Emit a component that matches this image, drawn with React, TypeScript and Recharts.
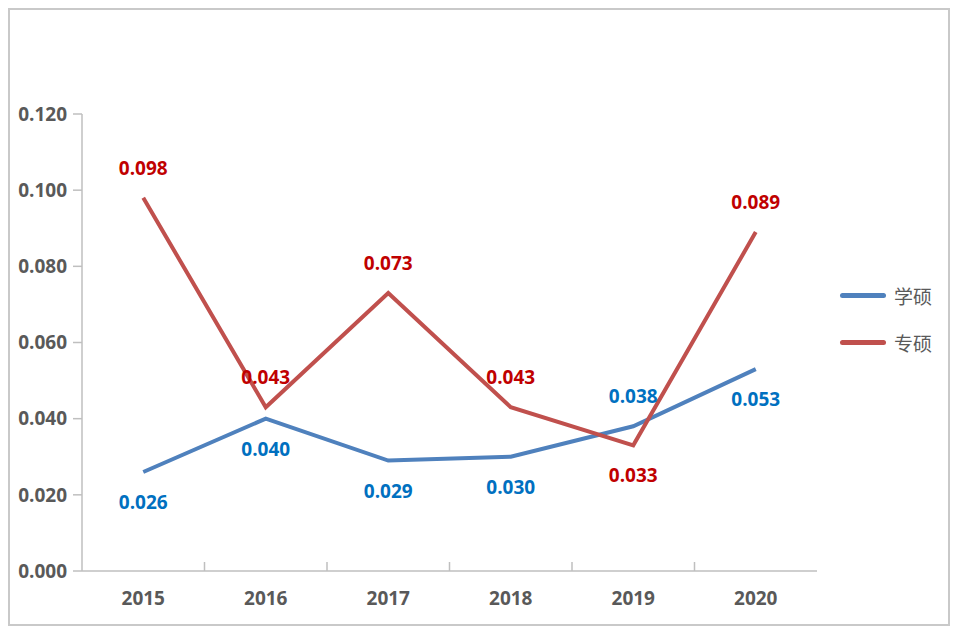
import React from 'react';
import { LineChart, Line, XAxis, YAxis, Legend } from 'recharts';

const years = ['2015', '2016', '2017', '2018', '2019', '2020'];
const xueshuo = [0.026, 0.04, 0.029, 0.03, 0.038, 0.053];
const zhuanshuo = [0.098, 0.043, 0.073, 0.043, 0.033, 0.089];
const yTicks = [0, 0.02, 0.04, 0.06, 0.08, 0.1, 0.12];

// which points get their label under the line
const xueshuoBelow = [0, 1, 2, 3, 5];
const zhuanshuoBelow = [4];

const data = years.map((year, i) => ({
  year,
  学硕: xueshuo[i],
  专硕: zhuanshuo[i],
}));

const W = 938;
const H = 614;
const LEGEND_W = 110;
const Y_WIDTH = 62;
// legend on the right eats LEGEND_W of the right margin
const MARGIN = { top: 104, right: 131 - LEGEND_W, bottom: 23, left: 10 };
const PLOT_W = W - MARGIN.left - 131 - Y_WIDTH;
const BAND = PLOT_W / years.length;

const FONT = '"Open Sans", "Noto Sans", sans-serif';
const AXIS_COLOR = '#bfbfbf';

const makeLabel = (color: string, below: number[]) => (props: any) => {
  const { x, y, value, index } = props;
  const dy = below.includes(index) ? 37 : -23;
  return (
    <text
      x={x}
      y={y + dy}
      fill={color}
      textAnchor="middle"
      fontFamily={FONT}
      fontWeight="bold"
      fontSize={19}
    >
      {Number(value).toFixed(3)}
    </text>
  );
};

const XTick = (props: any) => {
  const { x, y, payload, index } = props;
  return (
    <g>
      <text
        x={x}
        y={y + 34}
        textAnchor="middle"
        fill="#595959"
        fontFamily={FONT}
        fontWeight="bold"
        fontSize={19}
      >
        {payload.value}
      </text>
      {index < years.length - 1 && (
        <line x1={x + BAND / 2} x2={x + BAND / 2} y1={y} y2={y - 9} stroke={AXIS_COLOR} strokeWidth={1.5} />
      )}
    </g>
  );
};

const LegendContent = () => (
  <div style={{ fontFamily: '"Noto Sans CJK SC", sans-serif', fontSize: 19, color: '#595959' }}>
    {[
      { name: '学硕', color: '#4f81bd' },
      { name: '专硕', color: '#c0504d' },
    ].map((item) => (
      <div key={item.name} style={{ display: 'flex', alignItems: 'center', height: 47 }}>
        <span
          style={{
            display: 'inline-block',
            width: 46,
            height: 5,
            borderRadius: 3,
            background: item.color,
            marginRight: 8,
          }}
        />
        {item.name}
      </div>
    ))}
  </div>
);

export default function App() {
  return (
    <div style={{ width: W, height: H, border: '2px solid #c9c9c9', background: '#fff' }}>
      <LineChart width={W} height={H} data={data} margin={MARGIN}>
        <XAxis
          dataKey="year"
          stroke={AXIS_COLOR}
          strokeWidth={1.5}
          tickLine={false}
          tickSize={0}
          tickMargin={0}
          height={30}
          padding={{ left: BAND / 2, right: BAND / 2 }}
          tick={<XTick />}
          interval={0}
        />
        <YAxis
          domain={[0, 0.12]}
          ticks={yTicks}
          width={Y_WIDTH}
          stroke={AXIS_COLOR}
          strokeWidth={1.5}
          tickSize={9}
          tickMargin={6}
          tickFormatter={(v: number) => v.toFixed(3)}
          tick={{ fill: '#595959', fontFamily: FONT, fontWeight: 'bold', fontSize: 19 }}
          interval={0}
        />
        <Legend
          layout="vertical"
          verticalAlign="top"
          align="right"
          content={<LegendContent />}
          wrapperStyle={{ left: 830, top: 262, width: LEGEND_W }}
        />
        <Line
          type="linear"
          dataKey="学硕"
          stroke="#4f81bd"
          strokeWidth={4}
          dot={false}
          isAnimationActive={false}
          label={makeLabel('#0070c0', xueshuoBelow)}
        />
        <Line
          type="linear"
          dataKey="专硕"
          stroke="#c0504d"
          strokeWidth={4}
          dot={false}
          isAnimationActive={false}
          label={makeLabel('#c00000', zhuanshuoBelow)}
        />
      </LineChart>
    </div>
  );
}
